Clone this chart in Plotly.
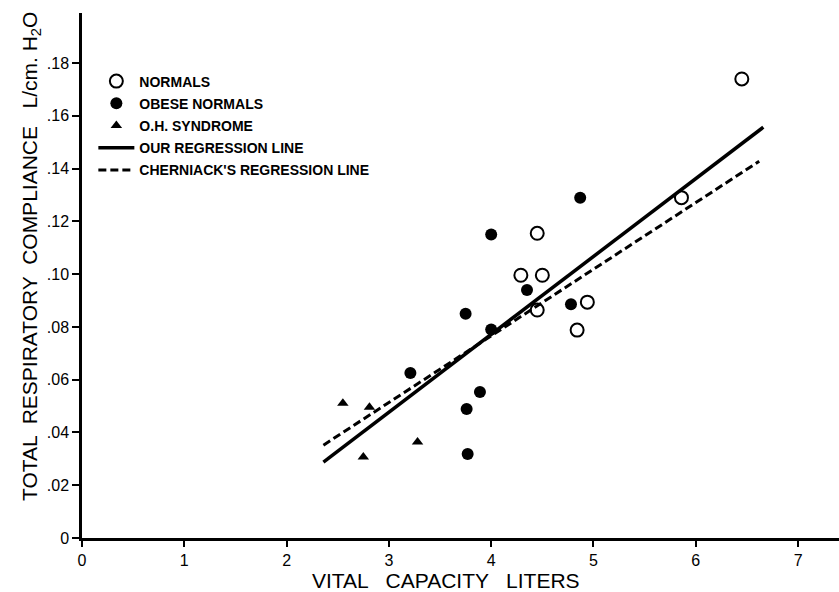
import plotly.graph_objects as go

# Normals (open circles)
normals_x = [6.45, 5.86, 4.45, 4.29, 4.50, 4.45, 4.94, 4.84]
normals_y = [0.174, 0.129, 0.1155, 0.0996, 0.0996, 0.0864, 0.0894, 0.0788]

# Obese normals (filled circles)
obese_x = [4.87, 4.00, 4.35, 4.00, 4.78, 3.75, 3.21, 3.89, 3.76, 3.77]
obese_y = [0.129, 0.115, 0.094, 0.079, 0.0886, 0.085, 0.0625, 0.0553, 0.0489, 0.0318]

# O.H. syndrome (triangles)
oh_x = [2.55, 2.81, 3.28, 2.75]
oh_y = [0.0511, 0.0496, 0.0364, 0.0307]

# Regression lines
our_x = [2.36, 6.66]
our_y = [0.0288, 0.1557]
cher_x = [2.36, 6.62]
cher_y = [0.0352, 0.1428]

x_ticks = [0, 1, 2, 3, 4, 5, 6, 7]
y_ticks = [0, 0.02, 0.04, 0.06, 0.08, 0.10, 0.12, 0.14, 0.16, 0.18]
y_tick_labels = ["0", ".02", ".04", ".06", ".08", ".10", ".12", ".14", ".16", ".18"]

x_title = "VITAL   CAPACITY   LITERS"
y_title = "TOTAL  RESPIRATORY  COMPLIANCE   L/cm. H<sub>2</sub>O"

FONT = "Liberation Sans, Arial, sans-serif"

fig = go.Figure()
fig.add_trace(go.Scatter(x=normals_x, y=normals_y, mode="markers", name="NORMALS",
                         legendgroup="a",
                         marker=dict(symbol="circle-open", size=13, color="black",
                                     line=dict(width=2, color="black"))))
fig.add_trace(go.Scatter(x=obese_x, y=obese_y, mode="markers", name="OBESE NORMALS",
                         legendgroup="b",
                         marker=dict(symbol="circle", size=12, color="black")))
fig.add_trace(go.Scatter(x=oh_x, y=oh_y, mode="markers", name="O.H. SYNDROME",
                         legendgroup="c",
                         marker=dict(symbol="triangle-up", size=10, color="black")))
fig.add_trace(go.Scatter(x=our_x, y=our_y, mode="lines", name="OUR REGRESSION LINE",
                         legendgroup="d",
                         line=dict(color="black", width=3.5)))
fig.add_trace(go.Scatter(x=cher_x, y=cher_y, mode="lines", name="CHERNIACK'S REGRESSION LINE",
                         legendgroup="e",
                         line=dict(color="black", width=3, dash="8px,4px")))

fig.update_layout(
    width=839, height=592,
    margin=dict(l=82, r=0, t=13, b=54),
    paper_bgcolor="white", plot_bgcolor="white",
    font=dict(family=FONT, color="black"),
    showlegend=True,
    legend=dict(x=0.015, y=0.90, xanchor="left", yanchor="top",
                font=dict(family=FONT, size=14, color="black", weight="bold"),
                bgcolor="rgba(0,0,0,0)", traceorder="grouped", tracegroupgap=1,
                itemwidth=36),
    xaxis=dict(range=[0, 7.4], tickvals=x_ticks, ticktext=[str(v) for v in x_ticks],
               showgrid=False, zeroline=False, showline=True, linecolor="black",
               linewidth=2.5, ticks="outside", ticklen=6, tickwidth=2, tickcolor="black",
               tickfont=dict(size=16, family=FONT)),
    yaxis=dict(range=[0, 0.199], tickvals=y_ticks, ticktext=y_tick_labels,
               showgrid=False, zeroline=False, showline=True, linecolor="black",
               linewidth=2.5, ticks="outside", ticklen=7, tickwidth=2, tickcolor="black",
               tickfont=dict(size=16, family=FONT)),
    annotations=[
        dict(text=x_title, xref="paper", yref="paper", x=(446 - 82) / 757, y=-(580 - 538) / 525,
             xanchor="center", yanchor="middle", showarrow=False,
             font=dict(size=21, family=FONT, color="black")),
        dict(text=y_title, xref="paper", yref="paper", x=-(82 - 31) / 757, y=(538 - 257) / 525,
             xanchor="center", yanchor="middle", showarrow=False, textangle=-90,
             font=dict(size=21, family=FONT, color="black")),
    ],
)

fig.write_html("out.html")
